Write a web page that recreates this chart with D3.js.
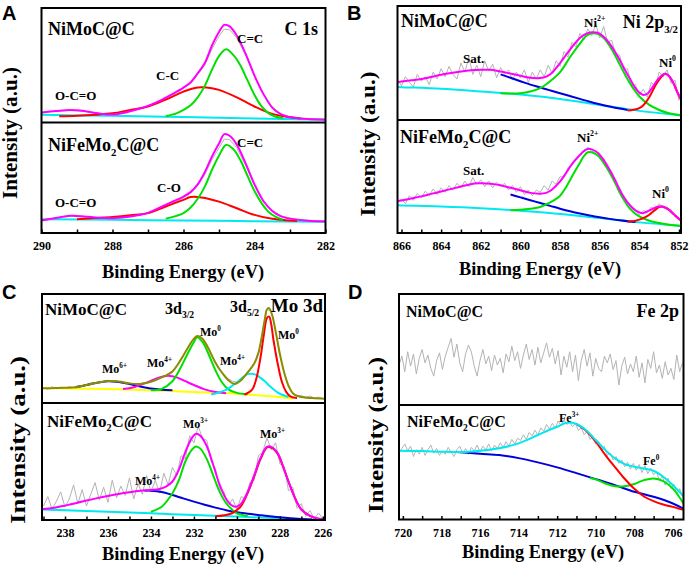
<!DOCTYPE html>
<html>
<head>
<meta charset="utf-8">
<script src="https://cdn.jsdelivr.net/npm/d3@7"></script>
<style>
body { margin: 0; background: #fff; }
</style>
</head>
<body>
<svg id="chart" width="692" height="569"></svg>
<script>
// ---------- panel A : C 1s ----------  [binding energy, intensity %]
const aTopRaw = [[290,8.5],[289.6,9.8],[289.2,10.6],[288.8,9.8],[288.4,7.8],[288,6.8],[287.6,8.8],[287.3,11.3],[287,14.3],[286.6,19.8],[286.3,24.8],[286,30.2],[285.8,34.6],[285.6,42],[285.4,50],[285.2,64],[285,75.5],[284.85,81.5],[284.7,81],[284.5,74],[284.25,59],[284,40.5],[283.75,25],[283.5,13.5],[283.25,7.5],[283,5],[282.5,3.5],[282,3]];
const aTopBase = [[290,6.8],[288,5.8],[286,4.8],[284,3.6],[282,2.4]];
const aTopRed = [[289.5,5.5],[289,6],[288.5,6.8],[288,8],[287.5,11],[287,14],[286.5,20],[286,27],[285.6,30.5],[285.2,30],[285,28.5],[284.5,22],[284,14],[283.5,7.5],[283,4.5],[282.7,3.5]];
const aTopGreen = [[286.5,5.5],[286.2,8],[286,11],[285.8,15],[285.6,22],[285.4,32],[285.2,46],[285,58],[284.8,64],[284.6,59],[284.4,50],[284.2,37],[284,24],[283.8,14],[283.6,8],[283.4,5],[283.2,4]];
const aTopFit = [[290,8.8],[289.6,10],[289.2,10.9],[288.8,10],[288.4,8],[288,7],[287.6,9],[287.3,11.5],[287,14.5],[286.6,20],[286.3,25],[286,30.5],[285.8,35],[285.6,43],[285.4,52],[285.2,67],[285,79],[284.85,85.3],[284.7,84],[284.5,76],[284.25,60],[284,41],[283.75,25],[283.5,13],[283.25,7],[283,4.5],[282.5,3],[282,2.4]];

const aBotRaw = [[290,11],[289.6,13.3],[289.2,15.2],[288.8,14.8],[288.4,13.6],[288,13.2],[287.6,14.3],[287.3,15.8],[287,17.8],[286.6,22.3],[286.3,26.8],[286,32],[285.8,36.5],[285.6,43],[285.4,53],[285.2,66],[285,77],[284.85,85],[284.7,84.5],[284.5,77],[284.25,61],[284,43],[283.75,29],[283.5,20.5],[283.25,15.5],[283,13.5],[282.5,11.5],[282,11]];
const aBotBase = [[290,12.5],[288,11.9],[286,11.3],[284,10.7],[282,10.1]];
const aBotRed = [[289,12.5],[288.5,13.5],[288,14.5],[287.5,16],[287,18],[286.5,24],[286,30],[285.8,32.5],[285.5,32.2],[285,28.4],[284.5,22.4],[284,16.4],[283.5,12.8],[283,11.3],[282.8,10.8]];
const aBotGreen = [[286.5,13],[286.2,15.5],[286,18],[285.8,23],[285.6,31],[285.4,42],[285.2,57],[285,70],[284.8,79.7],[284.6,76],[284.4,66],[284.2,52],[284,38],[283.8,27],[283.6,19],[283.4,14.5],[283.2,12]];
const aBotFit = [[290,11.3],[289.6,13.5],[289.2,15.5],[288.8,15],[288.4,13.8],[288,13.4],[287.6,14.5],[287.3,16],[287,18.2],[286.6,24],[286.3,28.5],[286,33],[285.8,37],[285.6,44],[285.4,55],[285.2,69],[285,81],[284.85,89.5],[284.7,88],[284.5,80],[284.25,63],[284,44],[283.75,29],[283.5,20],[283.25,15],[283,13],[282.5,11],[282,10.4]];

// ---------- panel B : Ni 2p3/2 ----------
const bRawStart = 866.2, bRawStep = 0.2;
const bTopRaw = [36,30,38,33,29,40,34,38,31,42,36,45,38,47,40,36,50,42,55,40,48,38,52,43,49,37,46,40,44,35,42,37,44,33,42,36,44,38,48,41,52,47,60,55,68,64,76,70,80,74,84,72,82,68,70,58,57,44,45,30,31,22,27,20,33,30,42,38,44,32,35,17];
const bTopBase = [[866.2,29],[866,28.8],[864,27.4],[862,25],[860,22.4],[858,18.5],[856,13.2],[854,8],[852,4.1],[851.9,3.9]];
const bTopBlue = [[861,40],[860.5,37],[860,34],[859.5,31],[859,28.5],[858.5,26],[858,23.5],[857.5,21],[857,18.5],[856.5,16],[856,13.8],[855.5,11.8],[855,10],[854.6,8.8]];
const bTopGreen = [[861,23.5],[860.5,23.2],[860,23.5],[859.5,25],[859,28],[858.5,34],[858,42],[857.5,55],[857,67],[856.7,73.5],[856.4,76],[856.1,75.5],[855.8,72],[855.5,65],[855.2,56],[855,49],[854.7,39],[854.5,33],[854.2,25],[854,20.6],[853.5,13.2],[853,8.8],[852.5,5.9],[852,4.4],[851.9,4.2]];
const bTopRed = [[854.6,8.3],[854.3,9],[854,10.5],[853.8,13],[853.5,20],[853.2,30],[853,35.5],[852.8,39.5],[852.7,40.6],[852.5,38.5],[852.3,33],[852.1,25],[851.9,18]];
const bTopFit = [[866.2,33],[866,33.8],[865.5,34.8],[865,35.9],[864.5,37.8],[864,39.7],[863.5,41.3],[863,42.6],[862.5,43.6],[862,44],[861.5,44],[861,42.6],[860.5,40.7],[860,38.8],[859.5,37],[859,36.8],[858.7,38],[858.4,41.5],[858,50],[857.7,57],[857.4,64],[857,72],[856.7,75.5],[856.4,77],[856.1,76.5],[855.8,73],[855.5,67],[855.2,59],[855,53],[854.7,43],[854.5,37],[854.2,28],[854,24],[853.8,22],[853.6,23],[853.4,27],[853.2,32.5],[853,37],[852.8,40],[852.7,40.6],[852.5,38.5],[852.3,33],[852.1,25],[851.9,18]];

const bBotRaw = [27,30,26,33,29,35,31,37,33,39,34,40,36,42,38,44,40,46,41,49,43,47,41,46,40,45,41,44,38,42,36,41,34,38,33,38,36,42,38,46,43,50,49,58,60,66,69,73,76,72,73,68,66,58,54,45,40,31,28,22,20,16,20,18,23,21,26,22,23,17,16,11];
const bBotBase = [[866.2,24.5],[866,24.4],[864,23.5],[862,22],[860,19.7],[858,16.8],[856,13.2],[854,9.4],[852,6.5],[851.9,6.3]];
const bBotBlue = [[860.5,34],[860,31.5],[859.5,29],[859,26.5],[858.5,24],[858,21.5],[857.5,19.3],[857,17.3],[856.5,15.5],[856,13.9],[855.5,12.5],[855,11.2],[854.5,10.2],[854.2,9.8]];
const bBotGreen = [[860.5,20.2],[860,20.6],[859.5,21.5],[859,23],[858.5,27],[858,33],[857.7,40.5],[857.4,50],[857,62],[856.8,68],[856.6,71.5],[856.4,71.5],[856.1,68.5],[855.8,62],[855.5,53.5],[855.2,43.5],[855,36],[854.7,27],[854.5,22],[854.2,17],[854,14.7],[853.5,10.9],[853,8.8],[852.5,7.3],[851.9,6.3]];
const bBotRed = [[854.6,10],[854.3,10.5],[854,11.8],[853.7,14],[853.5,16.2],[853.2,20.5],[853,23],[852.8,23.2],[852.6,21.5],[852.4,19],[852.2,15.5],[851.9,11]];
const bBotFit = [[866.2,28.3],[866,28.8],[865.5,30.6],[865,32.4],[864.5,34.6],[864,36.8],[863.5,39],[863,41.2],[862.5,43.2],[862.2,44],[862,44],[861.5,43.6],[861,42.2],[860.5,40],[860,37.8],[859.5,35.5],[859,34.8],[858.7,35.5],[858.4,38.5],[858,45.6],[857.7,53],[857.4,61],[857,69],[856.8,72.5],[856.6,74.4],[856.4,74],[856.1,71],[855.8,64.5],[855.5,56],[855.2,46],[855,38.5],[854.7,29.5],[854.5,25],[854.2,20],[854,18.2],[853.8,17.6],[853.5,20],[853.2,22.5],[853,23.5],[852.8,23.2],[852.6,21.5],[852.4,19],[852.2,15.5],[851.9,11]];

// ---------- panel C : Mo 3d ----------
const cRawStart = 239.0, cRawStep = 0.2;
const cTopRaw = [14,12.5,15,13,14.5,13.5,15,14,16,15.5,17,18.5,18,20,19.5,21,19.5,20.5,18.5,19,17,18,16.5,18.5,18,20.5,20.5,23.5,24,27,29,34,40,47,54,59,62,58,54,45,38,31,26,22,20,19,21,25,30,36,45,64,86,84,66,45,28,15,9,6,7,5,6.5,4.5,5.5,4];
const cTopBase = [[239.1,13.8],[238,13.4],[236,12.8],[234,11.6],[232,10.1],[230,8.5],[229,7],[228,5.5],[227.4,4]];
const cTopBlue = [[237.5,14.5],[237,16.5],[236.5,18.5],[236,20],[235.5,19.3],[235,17.5],[234.5,15.2],[234,13.3],[233.5,12.2],[233,11.6]];
const cTopMagenta = [[235.3,12.8],[234.8,14.5],[234.3,18],[233.8,22],[233.4,24.5],[233.2,25],[232.8,23.5],[232.4,20],[232,16.5],[231.5,12.5],[231,10],[230.5,9]];
const cTopGreen = [[234,11.6],[233.5,13],[233,20],[232.6,33],[232.3,45],[232,56],[231.85,60.4],[231.6,56],[231.3,44],[231,30],[230.7,19],[230.4,12.5],[230,9.3],[229.5,8]];
const cTopCyan = [[231.2,8],[231,8.7],[230.5,12],[230.2,16],[230,19],[229.7,24],[229.5,26.5],[229.2,26.5],[229,24.5],[228.7,20],[228.5,16],[228.2,11],[228,8.5],[227.6,5.5]];
const cTopRed = [[229.65,7.6],[229.3,12],[229.1,22],[228.9,42],[228.75,62],[228.6,78],[228.5,79.3],[228.4,72],[228.3,58],[228.1,36],[227.9,19],[227.7,10],[227.5,5.8],[227.2,4.5]];
const cTopFit = [[239.1,13.5],[238,14],[237.5,14.5],[237,16.5],[236.5,18.5],[236,20.2],[235.5,19.8],[235,18],[234.5,17.5],[234,19.5],[233.5,23.5],[233,29],[232.6,40],[232.3,50],[232,59],[231.85,61.5],[231.6,59],[231.3,49],[231,37],[230.7,28],[230.4,21],[230.1,17.6],[229.8,21],[229.5,28],[229.2,36],[229,46],[228.85,60],[228.7,77],[228.6,86],[228.5,87],[228.35,80],[228.2,66],[228,45],[227.8,28],[227.6,16],[227.4,9],[227.1,6],[226.5,4.5],[225.9,4]];

const cBotRaw = [12,20,9,16,24,11,18,30,14,26,12,22,32,17,28,15,34,19,29,21,36,18,31,22,38,24,34,23,40,30,45,38,55,52,72,66,80,70,68,50,44,26,24,12,18,9,20,18,32,34,55,58,70,60,66,48,46,25,28,10,14,3,8,1,6,1];
const cBotBase = [[239.1,9.1],[236,7.1],[234,5.7],[232,4.3],[230,2.9],[228,1.4],[227,0.6],[225.9,0.3]];
const cBotBlue = [[234.3,25.1],[234,25.1],[233.5,24],[233,21.4],[232.5,18.5],[232,15.7],[231.5,13],[231,10.6],[230.5,8.4],[230,6.6],[229.5,5.4],[229,4.3],[228,2.3],[227,0.9],[226.5,0.5]];
const cBotGreen = [[234,7.1],[233.5,11.4],[233,22.9],[232.7,34],[232.4,50],[232.1,60],[231.9,62.9],[231.7,61],[231.4,52],[231.1,38],[230.8,24],[230.5,14.3],[230.2,8.5],[230,5.7],[229.5,3.4]];
const cBotRed = [[231,3.3],[230.5,4.3],[230.2,6],[230,8.6],[229.8,12],[229.5,23],[229.2,37],[228.9,52],[228.6,62],[228.4,62],[228.1,56.5],[227.8,43],[227.5,28],[227.2,15],[227,9],[226.6,3.5],[226.3,1.5]];
const cBotFit = [[239.1,9.2],[238.5,10.5],[238,12.3],[237.5,14.3],[237,16.6],[236.5,18.7],[236,20.6],[235.5,22.3],[235,23.7],[234.5,24.9],[234,25.7],[233.6,26.5],[233.3,28.5],[233,32.9],[232.7,43],[232.4,58],[232.1,70],[231.9,73.7],[231.7,72],[231.4,63],[231.1,47],[230.8,30],[230.5,18],[230.2,12],[230,11.5],[229.8,14],[229.5,24],[229.2,38],[228.9,53],[228.6,62.5],[228.4,62.5],[228.1,57],[227.8,43],[227.5,28],[227.2,15],[227,9],[226.6,3.5],[226.2,1.2],[225.9,0.6]];

// ---------- panel D : Fe 2p ----------
const dRawStart = 720.2, dRawStep = 0.15;
const dTopRaw = [36,44,30,48,35,46,28,42,50,38,45,33,26,40,47,32,44,52,60,43,55,38,30,46,54,48,35,26,40,50,37,44,31,45,36,42,29,46,39,53,40,48,33,45,55,41,50,36,52,38,47,56,43,51,37,49,27,44,34,48,30,45,22,40,50,35,47,26,42,33,30,44,38,46,32,40,18,35,43,28,37,30,44,25,38,20,41,33,48,29,36,24,39,27,33,23,45,30,38];
const dBotRaw = [58,62,66,60,64,55,61,57,63,56,61,65,58,62,56,60,57,63,59,55,61,64,58,62,57,63,60,65,59,64,61,66,60,65,62,67,63,68,64,70,66,71,69,74,70,76,73,78,74,80,77,83,79,84,80,86,82,87,83,85,81,84,78,80,74,77,70,72,66,68,60,64,56,58,52,55,49,52,46,50,44,49,43,48,41,47,40,45,39,42,34,38,30,36,27,31,22,27,20];
const dBotBlue = [[717.2,58.9],[716,57.4],[715,56.3],[714,53.6],[713,49.9],[712,45.5],[711,40.5],[710,35.3],[709,30],[708,24.2],[707,19.8],[706,14],[705.45,9.3]];
const dBotGreen = [[710.3,36.3],[710,35],[709.5,31.5],[709,29],[708.5,29],[708,31],[707.5,34.4],[707,35.9],[706.5,33.5],[706,27],[705.45,14]];
const dBotRed = [[711,83.4],[710.5,77.5],[710,68],[709.5,56.3],[709,45.8],[708.5,35.6],[708,26.8],[707.5,20.1],[707,16],[706.5,13.1],[706,11],[705.45,8.5]];
const dBotFit = [[720.2,60.1],[719,59.8],[718,59.2],[717,58.9],[716,60.1],[715,62.3],[714,66.5],[713,73.8],[712.3,79],[712,81],[711.5,84.5],[711,83.4],[710.5,78],[710,69.4],[709.5,60.6],[709,53.4],[708.5,48.4],[708,46.1],[707.5,44.6],[707,42.6],[706.5,37.3],[706,30],[705.45,20.5]];

const col = { pink: "#ff00ff", green: "#00e000", red: "#ff0000", cyan: "#00e8f0", blue: "#0000dd", olive: "#8c8c00", yellow: "#ffff00", gray: "#b3b3b3" };
const serif = "'Liberation Serif', 'Times New Roman', serif";

const rawPts = (start, step, vals) => vals.map((v, i) => [start - i * step, v]);

const svg = d3.select("#chart");

// superscript / subscript aware text
function label(g, parts, x, y, size, anchor) {
  const t = g.append("text").attr("x", x).attr("y", y).attr("font-size", size)
    .attr("text-anchor", anchor || "start").style("font-family", serif).style("font-weight", "bold");
  let shift = 0;
  parts.forEach(p => {
    const kind = Array.isArray(p) ? p[1] : null, txt = Array.isArray(p) ? p[0] : p;
    const target = kind === "sup" ? -0.45 * size : kind === "sub" ? 0.25 * size : 0;
    t.append("tspan").attr("dy", target - shift).attr("font-size", kind ? size * 0.6 : size).text(txt);
    shift = target;
  });
  return t;
}

const panels = [
  { letter: "A", lx: 2, ly: 20, left: 41.5, right: 325.5, top: 8, mid: 122.5, bottom: 233, domain: [290, 282],
    yt: [17, 133, 132], xt: [183, 278],
    subs: [
      [[aTopRaw, "gray", 1], [aTopBase, "cyan"], [aTopRed, "red"], [aTopGreen, "green"], [aTopFit, "pink"]],
      [[aBotRaw, "gray", 1], [aBotBase, "cyan"], [aBotRed, "red"], [aBotGreen, "green"], [aBotFit, "pink"]]
    ],
    labels: [
      [["NiMoC@C"], 48, 35, 18], [["C 1s"], 318, 35, 18, "end"], [["NiFeMo", ["2", "sub"], "C@C"], 48, 151, 18],
      [["C=C"], 237, 43, 13], [["C-C"], 156, 80, 13], [["O-C=O"], 55, 100, 13],
      [["C=C"], 237, 147, 13], [["C-O"], 157, 192, 13], [["O-C=O"], 55, 207, 13]
    ] },
  { letter: "B", lx: 347, ly: 20, left: 397.5, right: 681, top: 6, mid: 120, bottom: 233, domain: [866.2, 851.9],
    yt: [375, 144, 145], xt: [540, 275],
    subs: [
      [[rawPts(bRawStart, bRawStep, bTopRaw), "gray", 1], [bTopBase, "cyan"], [bTopBlue, "blue"], [bTopGreen, "green"], [bTopRed, "red"], [bTopFit, "pink"]],
      [[rawPts(bRawStart, bRawStep, bBotRaw), "gray", 1], [bBotBase, "cyan"], [bBotBlue, "blue"], [bBotGreen, "green"], [bBotRed, "red"], [bBotFit, "pink"]]
    ],
    labels: [
      [["NiMoC@C"], 401, 27, 18], [["Ni 2p", ["3/2", "sub"]], 678, 28, 18, "end"], [["NiFeMo", ["2", "sub"], "C@C"], 400, 143, 18],
      [["Sat."], 463, 63, 13], [["Ni", ["2+", "sup"]], 584, 27, 13], [["Ni", ["0", "sup"]], 659, 67, 13],
      [["Sat."], 463, 175, 13], [["Ni", ["2+", "sup"]], 577, 142, 13], [["Ni", ["0", "sup"]], 652, 198, 13]
    ] },
  { letter: "C", lx: 2, ly: 299, left: 42, right: 325, top: 294, mid: 403, bottom: 520, domain: [239.07, 225.9],
    yt: [25, 440, 168], xt: [183, 560],
    subs: [
      [[rawPts(cRawStart, cRawStep, cTopRaw), "gray", 1], [cTopBase, "yellow"], [cTopBlue, "blue"], [cTopMagenta, "pink"], [cTopGreen, "green"], [cTopCyan, "cyan"], [cTopRed, "red"], [cTopFit, "olive"]],
      [[rawPts(cRawStart, cRawStep, cBotRaw), "gray", 1], [cBotBase, "cyan"], [cBotBlue, "blue"], [cBotGreen, "green"], [cBotRed, "red"], [cBotFit, "pink"]]
    ],
    labels: [
      [["NiMoC@C"], 45, 315, 17], [["Mo 3d"], 323, 312, 19, "end"],
      [["3d", ["3/2", "sub"]], 165, 314, 16], [["3d", ["5/2", "sub"]], 230, 312, 16],
      [["Mo", ["0", "sup"]], 200, 336, 12], [["Mo", ["0", "sup"]], 278, 339, 12],
      [["Mo", ["6+", "sup"]], 102, 373, 12], [["Mo", ["4+", "sup"]], 147, 367, 12], [["Mo", ["4+", "sup"]], 220, 365, 12],
      [["NiFeMo", ["2", "sub"], "C@C"], 47, 427, 17],
      [["Mo", ["3+", "sup"]], 183, 428, 12], [["Mo", ["3+", "sup"]], 260, 438, 12], [["Mo", ["4+", "sup"]], 135, 485, 12]
    ] },
  { letter: "D", lx: 348, ly: 299, left: 399, right: 683.5, top: 294, mid: 405, bottom: 519.5, domain: [720.2, 705.45],
    yt: [383, 435, 156], xt: [543, 558],
    subs: [
      [[rawPts(dRawStart, dRawStep, dTopRaw), "gray", 1]],
      [[rawPts(dRawStart, dRawStep, dBotRaw), "gray", 1], [dBotBlue, "blue"], [dBotGreen, "green"], [dBotRed, "red"], [dBotFit, "cyan"]]
    ],
    labels: [
      [["NiMoC@C"], 406, 317, 16], [["Fe 2p"], 679, 317, 18, "end"], [["NiFeMo", ["2", "sub"], "C@C"], 407, 427, 16],
      [["Fe", ["3+", "sup"]], 559, 422, 12], [["Fe", ["0", "sup"]], 643, 465, 12]
    ] }
];

panels.forEach(p => {
  const g = svg.append("g");
  const x = d3.scaleLinear().domain(p.domain).range([p.left, p.right]);

  p.subs.forEach((lines, k) => {
    const top = k === 0 ? p.top : p.mid, bot = k === 0 ? p.mid : p.bottom;
    const y = d3.scaleLinear().domain([0, 100]).range([bot, top]);
    const id = "clip" + p.letter + k;
    svg.append("clipPath").attr("id", id).append("rect")
      .attr("x", p.left).attr("y", top).attr("width", p.right - p.left).attr("height", bot - top);
    const sg = g.append("g").attr("clip-path", `url(#${id})`);
    lines.forEach(([data, c, raw]) => {
      const line = d3.line().x(d => x(d[0])).y(d => y(d[1]))
        .curve(raw ? d3.curveLinear : d3.curveCatmullRom.alpha(0.5));
      sg.append("path").attr("d", line(data)).attr("fill", "none")
        .attr("stroke", col[c]).attr("stroke-width", raw ? 1 : 2).attr("stroke-linejoin", "round");
    });
  });

  // bottom axis with inward ticks every 1 eV, labels every 2 eV
  const lo = Math.ceil(Math.min(...p.domain)), hi = Math.floor(Math.max(...p.domain));
  const ax = g.append("g").attr("transform", `translate(0,${p.bottom})`)
    .call(d3.axisBottom(x).tickValues(d3.range(lo, hi + 1)).tickSize(-3.5).tickPadding(8.5)
      .tickFormat(d => d % 2 === 0 ? d : ""));
  ax.select(".domain").remove();
  ax.selectAll("line").attr("stroke-width", 1.5);
  ax.selectAll("text").style("font-family", serif).style("font-weight", "bold")
    .style("font-size", "12px").attr("fill", "#000");

  // frame and divider
  g.append("rect").attr("x", p.left).attr("y", p.top).attr("width", p.right - p.left).attr("height", p.bottom - p.top)
    .attr("fill", "none").attr("stroke", "#000").attr("stroke-width", 2);
  g.append("line").attr("x1", p.left).attr("x2", p.right).attr("y1", p.mid).attr("y2", p.mid)
    .attr("stroke", "#000").attr("stroke-width", 1.8);

  // titles
  g.append("text").attr("x", p.xt[0]).attr("y", p.xt[1]).attr("text-anchor", "middle")
    .style("font-family", serif).style("font-weight", "bold")
    .attr("font-size", 19).attr("textLength", 162).attr("lengthAdjust", "spacingAndGlyphs").text("Binding Energy (eV)");
  g.append("text").attr("transform", `translate(${p.yt[0]},${p.yt[1]}) rotate(-90)`).attr("text-anchor", "middle")
    .style("font-family", serif).style("font-weight", "bold")
    .attr("font-size", 20).attr("textLength", p.yt[2]).attr("lengthAdjust", "spacingAndGlyphs").text("Intensity (a.u.)");
  g.append("text").attr("x", p.lx).attr("y", p.ly).attr("font-size", 20)
    .style("font-family", "'Liberation Sans', Arial, sans-serif").style("font-weight", "bold").text(p.letter);

  p.labels.forEach(([parts, lx, ly, size, anchor]) => label(g, parts, lx, ly, size, anchor));
});
</script>
</body>
</html>
